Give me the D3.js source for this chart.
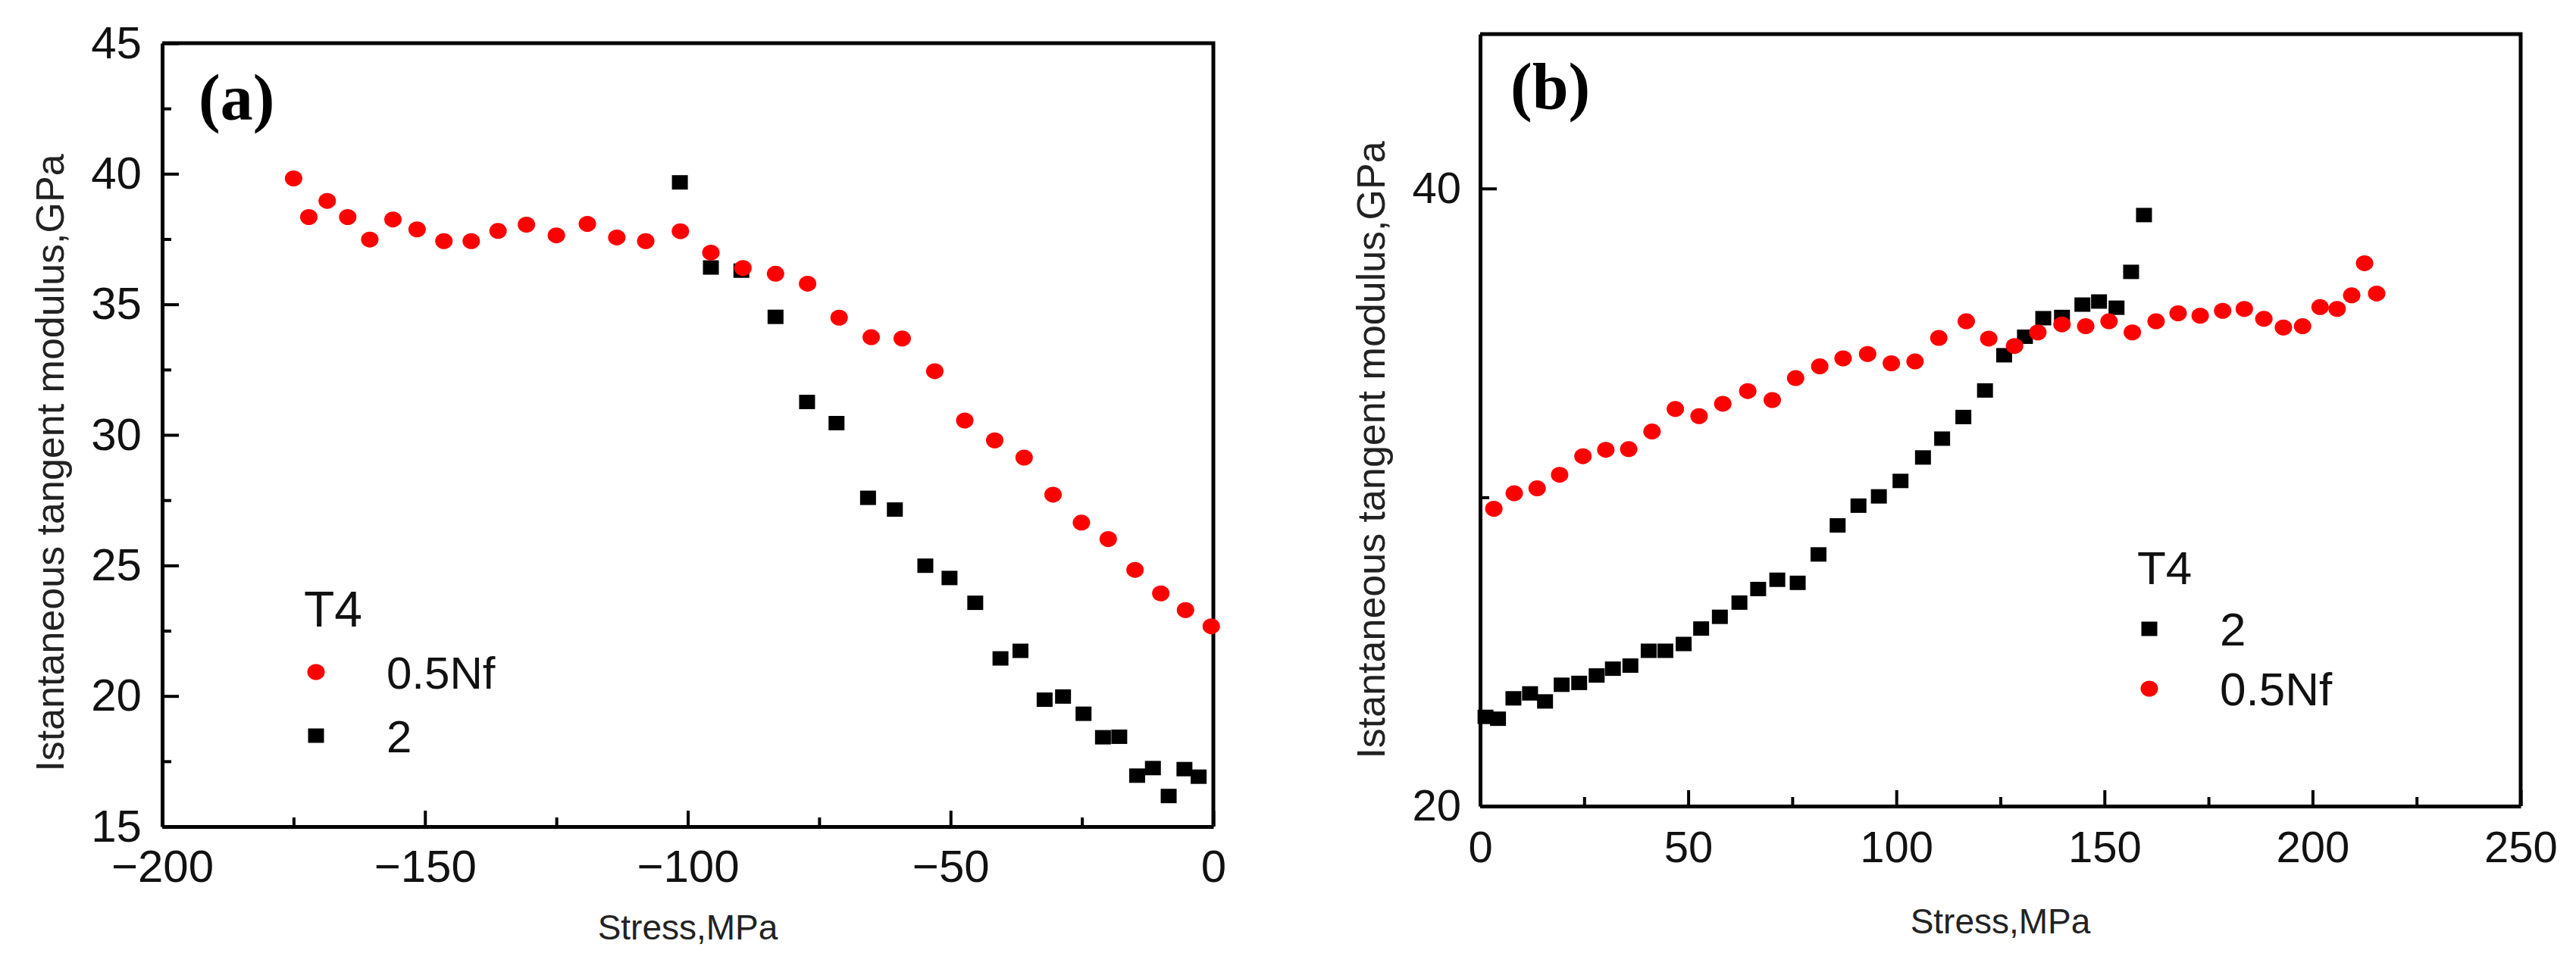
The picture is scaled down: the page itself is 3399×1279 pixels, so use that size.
<!DOCTYPE html>
<html>
<head>
<meta charset="utf-8">
<script src="https://cdn.jsdelivr.net/npm/d3@7"></script>
<style>
  html, body { margin: 0; padding: 0; background: #fff; }
  svg { display: block; font-family: "Liberation Sans", Arial, sans-serif; }
</style>
</head>
<body>
<svg id="chart"></svg>
<script>
// Panel (a): compressive stress, modulus vs stress
const aStressRed = [-175.0, -172.1, -168.6, -164.7, -160.5, -156.1, -151.5, -146.4, -141.2, -136.1, -130.7, -125.0, -119.1, -113.5, -108.0,
  -101.4, -95.6, -89.5, -83.3, -77.2, -71.2, -65.1, -59.2, -53.0, -47.3, -41.6, -36.0, -30.5, -25.1, -20.0, -14.9, -10.0, -5.3, -0.4];
const aModRed = [39.82, 38.34, 38.96, 38.34, 37.48, 38.25, 37.87, 37.42, 37.42, 37.81, 38.05, 37.64, 38.08, 37.56, 37.42,
  37.80, 36.98, 36.39, 36.17, 35.79, 34.49, 33.74, 33.69, 32.44, 30.55, 29.79, 29.13, 27.71, 26.64, 26.01, 24.83, 23.93, 23.29, 22.67];
const aStressBlack = [-101.5, -95.6, -89.8, -83.3, -77.3, -71.7, -65.7, -60.6, -54.8, -50.2, -45.3, -40.5, -36.7, -32.1, -28.6, -24.7,
  -21.0, -17.9, -14.5, -11.5, -8.5, -5.5, -2.8];
const aModBlack = [39.67, 36.41, 36.29, 34.52, 31.26, 30.45, 27.59, 27.14, 24.99, 24.52, 23.57, 21.44, 21.73, 19.86, 19.98, 19.32,
  18.42, 18.44, 16.95, 17.24, 16.17, 17.20, 16.91];

// Panel (b): tensile stress
const bStressRed = [3.3, 8.2, 13.7, 19.1, 24.7, 30.2, 35.7, 41.3, 46.9, 52.6, 58.3, 64.3, 70.2, 75.8, 81.6, 87.2, 93.1, 98.8, 104.5,
  110.2, 116.8, 122.2, 128.4, 134.0, 139.8, 145.5, 151.1, 156.7, 162.4, 167.7, 173.0, 178.4, 183.6, 188.3, 193.0, 197.6, 201.8,
  205.9, 209.4, 212.5, 215.4];
const bModRed = [29.63, 30.13, 30.29, 30.73, 31.33, 31.54, 31.56, 32.13, 32.86, 32.63, 33.03, 33.44, 33.15, 33.86, 34.24, 34.50, 34.64,
  34.34, 34.40, 35.16, 35.70, 35.14, 34.90, 35.34, 35.60, 35.54, 35.70, 35.34, 35.70, 35.96, 35.88, 36.04, 36.10, 35.78, 35.50,
  35.54, 36.16, 36.10, 36.54, 37.58, 36.60];
const bStressBlack = [1.3, 4.3, 8.0, 12.0, 15.6, 19.6, 23.8, 28.0, 31.9, 36.1, 40.5, 44.5, 48.9, 53.1, 57.6, 62.3, 66.8, 71.4, 76.3,
  81.3, 85.9, 90.9, 95.8, 101.0, 106.4, 111.0, 116.1, 121.3, 125.9, 130.9, 135.3, 139.8, 144.7, 148.7, 152.9, 156.4, 159.5];
const bModBlack = [22.89, 22.83, 23.49, 23.65, 23.39, 23.93, 23.99, 24.23, 24.45, 24.55, 25.03, 25.03, 25.25, 25.75, 26.13, 26.59,
  27.03, 27.33, 27.23, 28.15, 29.09, 29.73, 30.03, 30.53, 31.29, 31.90, 32.60, 33.46, 34.60, 35.20, 35.80, 35.84, 36.24, 36.34,
  36.14, 37.30, 39.14];

// Tick values
const aXTicks = [-200, -150, -100, -50, 0];
const aXMinor = [-175, -125, -75, -25];
const aYTicks = [15, 20, 25, 30, 35, 40, 45];
const aYMinor = [17.5, 22.5, 27.5, 32.5, 37.5, 42.5];
const bXTicks = [0, 50, 100, 150, 200, 250];
const bXMinor = [25, 75, 125, 175, 225];
const bYTicks = [20, 40];
const bYMinor = [30];

const xTitle = "Stress,MPa";
const yTitle = "Istantaneous tangent modulus,GPa";

const width = 3399;
const height = 1279;

const svg = d3.select("#chart")
  .attr("width", width)
  .attr("height", height)
  .attr("viewBox", [0, 0, width, height]);

svg.append("rect").attr("width", width).attr("height", height).attr("fill", "#fff");

const zip = (xs, ys) => xs.map((v, i) => ({x: v, y: ys[i]}));

function drawPanel(p) {
  const x = d3.scaleLinear(p.xDomain, [p.left, p.right]);
  const y = d3.scaleLinear(p.yDomain, [p.bottom, p.top]);
  const g = svg.append("g");

  // frame (top + right)
  g.append("path")
    .attr("d", `M${p.left},${p.top}H${p.right}V${p.bottom}`)
    .attr("fill", "none")
    .attr("stroke", "#000")
    .attr("stroke-width", 5);

  // minor ticks first
  g.append("g")
    .attr("transform", `translate(0,${p.bottom})`)
    .call(d3.axisBottom(x).tickValues(p.xMinor).tickFormat("").tickSize(-12).tickSizeOuter(0))
    .call(a => a.select(".domain").remove())
    .call(a => a.selectAll("line").attr("stroke-width", 4));
  g.append("g")
    .attr("transform", `translate(${p.left},0)`)
    .call(d3.axisLeft(y).tickValues(p.yMinor).tickFormat("").tickSize(-12).tickSizeOuter(0))
    .call(a => a.select(".domain").remove())
    .call(a => a.selectAll("line").attr("stroke-width", 4));

  // major axes
  g.append("g")
    .attr("transform", `translate(0,${p.bottom})`)
    .call(d3.axisBottom(x).tickValues(p.xTicks).tickSize(-21).tickSizeOuter(0).tickPadding(p.xPad))
    .call(a => a.select(".domain").attr("stroke-width", 5))
    .call(a => a.selectAll("line").attr("stroke-width", 4))
    .call(a => a.selectAll("text").attr("font-size", p.tickFont).attr("fill", "#111")
      .attr("font-family", "'Liberation Sans', Arial, sans-serif"));
  g.append("g")
    .attr("transform", `translate(${p.left},0)`)
    .call(d3.axisLeft(y).tickValues(p.yTicks).tickSize(-22).tickSizeOuter(0).tickPadding(p.yPad))
    .call(a => a.select(".domain").attr("stroke-width", 5))
    .call(a => a.selectAll("line").attr("stroke-width", 4))
    .call(a => a.selectAll("text").attr("font-size", p.tickFont).attr("fill", "#111")
      .attr("font-family", "'Liberation Sans', Arial, sans-serif"));

  // scatter points
  g.append("g").selectAll("rect")
    .data(zip(p.blackX, p.blackY))
    .join("rect")
    .attr("x", d => x(d.x) - 10.5)
    .attr("y", d => y(d.y) - 9.5)
    .attr("width", 21)
    .attr("height", 19)
    .attr("fill", "#000");

  g.append("g").selectAll("ellipse")
    .data(zip(p.redX, p.redY))
    .join("ellipse")
    .attr("cx", d => x(d.x))
    .attr("cy", d => y(d.y))
    .attr("rx", 11.5)
    .attr("ry", 10.5)
    .attr("fill", "#ff0000");

  // axis titles
  g.append("text")
    .attr("x", (p.left + p.right) / 2)
    .attr("y", p.xTitleY)
    .attr("text-anchor", "middle")
    .attr("font-size", 46)
    .attr("fill", "#222")
    .text(xTitle);

  g.append("text")
    .attr("transform", `translate(${p.yTitleX},${p.yTitleCy}) rotate(-90)`)
    .attr("text-anchor", "middle")
    .attr("font-size", 52)
    .attr("fill", "#222")
    .text(yTitle);

  // panel letter
  g.append("text")
    .attr("x", p.letterX)
    .attr("y", p.letterY)
    .attr("font-family", "'Liberation Serif', 'Times New Roman', serif")
    .attr("font-weight", "bold")
    .attr("font-size", 86)
    .attr("fill", "#000")
    .text(p.letter);

  // legend
  const lg = g.append("g").attr("font-size", p.legFont).attr("fill", "#111");
  lg.append("text").attr("x", p.legX - 16).attr("y", p.legTitleY).attr("font-size", p.legTitleFont).text("T4");
  p.legend.forEach((item, i) => {
    const cy = p.legRowY[i];
    if (item.shape === "circle") {
      lg.append("ellipse").attr("cx", p.legX).attr("cy", cy).attr("rx", 11.5).attr("ry", 10.5).attr("fill", "#ff0000");
    } else {
      lg.append("rect").attr("x", p.legX - 10.5).attr("y", cy - 9.5).attr("width", 21).attr("height", 19).attr("fill", "#000");
    }
    lg.append("text").attr("x", p.legTextX).attr("y", cy).attr("dy", "0.36em").text(item.label);
  });
}

drawPanel({
  left: 214, right: 1601, top: 57, bottom: 1091,
  xDomain: [-200, 0], yDomain: [15, 45],
  xTicks: aXTicks, xMinor: aXMinor, yTicks: aYTicks, yMinor: aYMinor,
  xPad: 30, yPad: 27, tickFont: 60,
  redX: aStressRed, redY: aModRed, blackX: aStressBlack, blackY: aModBlack,
  xTitleY: 1240, yTitleX: 84, yTitleCy: 611,
  letter: "(a)", letterX: 262, letterY: 158,
  legX: 417, legTextX: 510, legTitleY: 827, legTitleFont: 66, legFont: 60,
  legRowY: [887, 971],
  legend: [{shape: "circle", label: "0.5Nf"}, {shape: "square", label: "2"}]
});

drawPanel({
  left: 1953, right: 3326, top: 45, bottom: 1064,
  xDomain: [0, 250], yDomain: [20, 45],
  xTicks: bXTicks, xMinor: bXMinor, yTicks: bYTicks, yMinor: bYMinor,
  xPad: 33, yPad: 25, tickFont: 58,
  redX: bStressRed, redY: bModRed, blackX: bStressBlack, blackY: bModBlack,
  xTitleY: 1232, yTitleX: 1827, yTitleCy: 594,
  letter: "(b)", letterX: 1993, letterY: 143,
  legX: 2836, legTextX: 2929, legTitleY: 771, legTitleFont: 62, legFont: 62,
  legRowY: [830, 909],
  legend: [{shape: "square", label: "2"}, {shape: "circle", label: "0.5Nf"}]
});
</script>
</body>
</html>
